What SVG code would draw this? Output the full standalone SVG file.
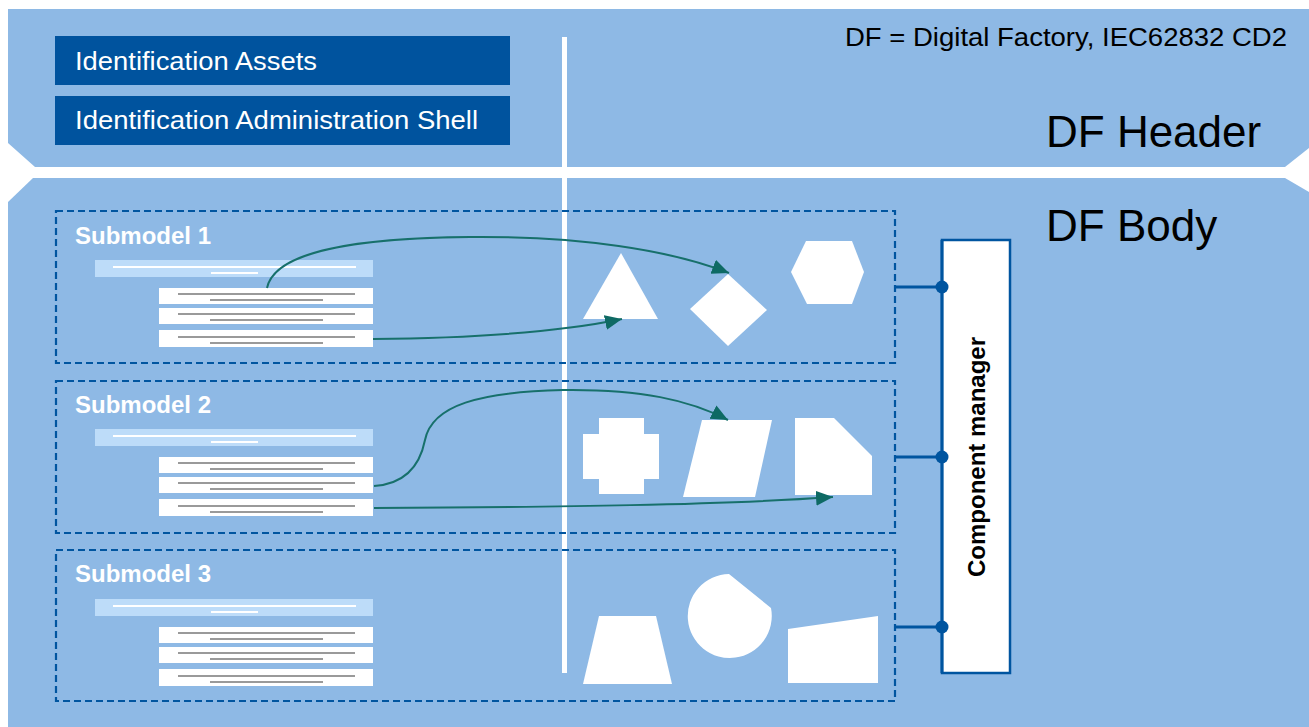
<svg xmlns="http://www.w3.org/2000/svg" width="1309" height="727" viewBox="0 0 1309 727">
<style>
.panel{fill:#8EB9E5}
.idbox{fill:#00539E}
.idtxt{font-family:"Liberation Sans",Arial,sans-serif;font-size:26px;fill:#ffffff}
.big{font-family:"Liberation Sans",Arial,sans-serif;font-size:44px;fill:#000000}
.note{font-family:"Liberation Sans",Arial,sans-serif;font-size:25px;fill:#000000}
.smtitle{font-family:"Liberation Sans",Arial,sans-serif;font-size:24px;font-weight:bold;fill:#ffffff}
.smbox{fill:none;stroke:#0055A0;stroke-width:2.2;stroke-dasharray:7,4}
.lbar{fill:#BDDCF9}
.wline{stroke:#ffffff;stroke-width:2}
.row{fill:#ffffff}
.gline{stroke:#9A9A9A;stroke-width:2}
.shape{fill:#ffffff}
.arr{fill:none;stroke:#17706B;stroke-width:2;marker-end:url(#ah)}
.conn{stroke:#0055A0;stroke-width:3}
.dot{fill:#0055A0}
.cm{fill:#ffffff;stroke:#0055A0;stroke-width:2.5}
.cmtxt{font-family:"Liberation Sans",Arial,sans-serif;font-size:24px;font-weight:bold;fill:#000000}
</style>
<defs>
<marker id="ah" markerUnits="userSpaceOnUse" markerWidth="20" markerHeight="16" refX="17" refY="7.5" orient="auto">
<path d="M0,0 L17,7.5 L0,15 Z" fill="#0E6A64"/>
</marker>
<g id="docs">
<rect class="lbar" x="95" y="260" width="278" height="17"/>
<line class="wline" x1="113" y1="267" x2="356" y2="267"/>
<line class="wline" x1="211" y1="273" x2="258" y2="273"/>
<rect class="row" x="159" y="288" width="214" height="16"/>
<line class="gline" x1="178" y1="294" x2="355" y2="294"/>
<line class="gline" x1="210" y1="300" x2="323" y2="300"/>
<rect class="row" x="159" y="308" width="214" height="16"/>
<line class="gline" x1="178" y1="314" x2="355" y2="314"/>
<line class="gline" x1="210" y1="320" x2="323" y2="320"/>
<rect class="row" x="159" y="330" width="214" height="17"/>
<line class="gline" x1="178" y1="337" x2="355" y2="337"/>
<line class="gline" x1="210" y1="343" x2="323" y2="343"/>
</g>
</defs>

<g id="df-header">
<polygon class="panel" points="8,9 1309,9 1309,148 1285,167 35,167 8,143"/>
<text class="note" x="845" y="46" textLength="442" lengthAdjust="spacingAndGlyphs">DF = Digital Factory, IEC62832 CD2</text>
<text class="big" x="1046" y="147">DF Header</text>
</g>
<g id="df-body">
<polygon class="panel" points="33,178 1285,178 1309,192 1309,727 8,727 8,202"/>
<text class="big" x="1046" y="241">DF Body</text>
</g>

<g id="id-assets">
<rect class="idbox" x="55" y="36" width="455" height="49"/>
<text class="idtxt" x="75" y="70" textLength="242" lengthAdjust="spacingAndGlyphs">Identification Assets</text>
</g>
<g id="id-shell">
<rect class="idbox" x="55" y="96" width="455" height="49"/>
<text class="idtxt" x="75" y="129" textLength="403" lengthAdjust="spacingAndGlyphs">Identification Administration Shell</text>
</g>

<g id="divider">
<rect x="562" y="37" width="5" height="636" fill="#ffffff"/>
</g>

<g id="submodel-1">
<rect class="smbox" x="56" y="211" width="839" height="152"/>
<text class="smtitle" x="75" y="244">Submodel 1</text>
<use href="#docs"/>
<polygon class="shape" points="621,253 658,319 583,319"/>
<polygon class="shape" points="728,274 767,310 728,346 690,309"/>
<polygon class="shape" points="791,272 806,241 852,241 864,272 852,304 807,304"/>
</g>

<g id="submodel-2">
<rect class="smbox" x="56" y="381" width="839" height="152"/>
<text class="smtitle" x="75" y="413">Submodel 2</text>
<use href="#docs" transform="translate(0,169)"/>
<polygon class="shape" points="599,418 644,418 644,434 659,434 659,479 644,479 644,494 599,494 599,479 583,479 583,434 599,434"/>
<polygon class="shape" points="702,420 772,420 755,497 683,497"/>
<polygon class="shape" points="795,418 834,418 872,456 872,495 795,495"/>
</g>

<g id="submodel-3">
<rect class="smbox" x="56" y="550" width="839" height="151"/>
<text class="smtitle" x="75" y="582">Submodel 3</text>
<use href="#docs" transform="translate(0,339)"/>
<polygon class="shape" points="599,616 656,616 672,684 583,684"/>
<path class="shape" d="M729,574 L771,608 A42,42 0 1,1 729,574 Z"/>
<polygon class="shape" points="788,629 878,616 878,683 788,683"/>
</g>

<g id="component-manager">
<rect class="cm" x="942" y="240" width="68" height="433"/>
<text class="cmtxt" x="985" y="457" text-anchor="middle" transform="rotate(-90 985 457)">Component manager</text>
</g>

<g id="connectors">
<path class="arr" d="M267,288 C275,250 360,238 470,237 C580,236 670,250 729,273"/>
<path class="arr" d="M373,339 C470,338 560,332 622,319"/>
<path class="arr" d="M374,486 C405,484 420,465 425,440 C432,405 480,392 563,390 C640,389 690,400 728,420"/>
<path class="arr" d="M374,508 C560,507 720,505 833,497"/>
<line class="conn" x1="895" y1="287" x2="942" y2="287"/>
<line class="conn" x1="895" y1="457" x2="942" y2="457"/>
<line class="conn" x1="895" y1="627" x2="942" y2="627"/>
<line class="conn" x1="942" y1="240" x2="942" y2="673" stroke-width="2.5"/>
<circle class="dot" cx="942" cy="287" r="6.5"/>
<circle class="dot" cx="942" cy="457" r="6.5"/>
<circle class="dot" cx="942" cy="627" r="6.5"/>
</g>
</svg>
